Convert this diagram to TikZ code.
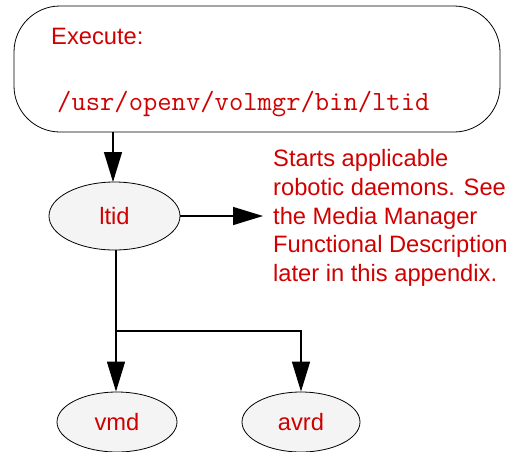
\documentclass[tikz,border=0pt]{standalone}
\usepackage{fontspec}
\setmainfont{Liberation Sans}
\usetikzlibrary{arrows.meta,shapes.geometric}
\definecolor{txtred}{RGB}{208,0,0}
\definecolor{ellfill}{RGB}{244,244,244}
\tikzset{
  conn/.style={line width=1.4pt,-{Triangle[length=30pt,width=18pt]}},
  plain/.style={line width=1.4pt},
  oval/.style={ellipse,draw,line width=0.8pt,fill=ellfill,inner sep=0pt,text=txtred,font=\fontsize{23.7}{28}\selectfont},
  lbl/.style={text=txtred,inner sep=0pt,font=\fontsize{23.7}{28.6}\selectfont}
}
\begin{document}
\begin{tikzpicture}[x=1pt,y=-1pt]
\useasboundingbox (0,0) rectangle (523,451);
\node[draw,line width=0.8pt,rounded corners=46pt,minimum width=486pt,minimum height=126pt,inner sep=0pt] (box) at (257,69) {};
\node[lbl,anchor=base west] (exe) at (51,44) {Execute:};
\node[lbl,anchor=base west,font=\ttfamily\fontsize{27.8}{28}\selectfont] (path) at (57,110) {/usr/openv/volmgr/bin/ltid};
\node[oval,minimum width=131pt,minimum height=68pt] (ltid) at (114.5,216) {ltid};
\node[oval,minimum width=120pt,minimum height=60pt] (vmd) at (117,422) {vmd};
\node[oval,minimum width=118pt,minimum height=60pt] (avrd) at (301,422) {avrd};
\node[lbl,anchor=north west,align=left] (desc) at (273,149.5) {Starts applicable\\robotic daemons. See\\the Media Manager\\Functional Description\\later in this appendix.};
\coordinate (tip) at (263,216);
\coordinate (jn) at (116,331);
\draw[conn] (box.south -| 113,0) -- (113,182);
\draw[conn] (ltid.east) -- (tip);
\draw[plain] (116,250) -- (jn);
\draw[conn] (jn) -- (vmd.north -| jn);
\draw[conn] (jn) -- (301,331) -- (avrd.north);
\end{tikzpicture}
\end{document}
